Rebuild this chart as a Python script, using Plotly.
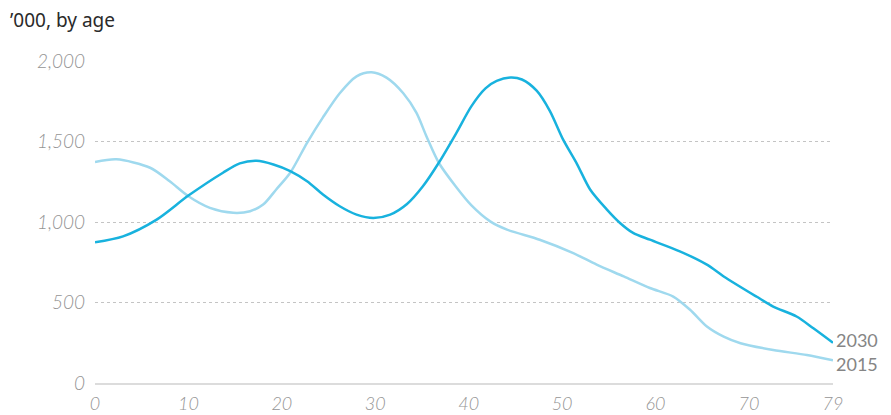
import plotly.graph_objects as go

# 2030 projection, '000 by age
ages_2030 = [0, 3.0, 6.6, 10.0, 13.7, 15.5, 17.3, 19.1, 20.9, 22.7, 24.4, 26.2, 28.0, 29.8, 31.6, 33.4,
             35.1, 36.8, 38.7, 40.3, 41.8, 43.0, 44.5, 45.7, 47.3, 48.7, 50.1, 51.6, 53.0, 54.8, 56.2,
             57.6, 59.4, 62.6, 65.5, 67.3, 70.8, 72.6, 75.1, 76.9, 79]
pop_2030 = [874, 911, 1015, 1164, 1306, 1364, 1380, 1357, 1316, 1253, 1171, 1098, 1046, 1025, 1046, 1112,
            1222, 1368, 1555, 1720, 1830, 1876, 1897, 1885, 1814, 1689, 1513, 1360, 1202, 1077, 994,
            932, 890, 818, 735, 662, 537, 475, 413, 340, 250]

# 2015, '000 by age
ages_2015 = [0, 2.3, 5.9, 8.0, 10.0, 12.3, 14.8, 16.6, 18.0, 19.4, 20.9, 22.7, 24.4, 26.2, 28.0, 29.6,
             31.2, 33.0, 34.4, 35.5, 36.8, 38.6, 40.3, 42.3, 44.1, 47.6, 51.2, 53.7, 56.6, 59.4, 61.9,
             63.7, 65.5, 67.3, 69.1, 72.6, 76.2, 79]
pop_2015 = [1372, 1389, 1337, 1253, 1160, 1088, 1057, 1067, 1108, 1202, 1306, 1492, 1650, 1800, 1905, 1930,
            1897, 1800, 1679, 1530, 1368, 1222, 1103, 1004, 953, 890, 807, 735, 662, 590, 537,
            455, 351, 288, 247, 205, 174, 141]

x_tickvals = [0, 10, 20, 30, 40, 50, 60, 70, 79]
x_ticktext = ["0", "10", "20", "30", "40", "50", "60", "70", "79"]
y_tickvals = [0, 500, 1000, 1500, 2000]
y_ticktext = ["0", "500", "1,000", "1,500", "2,000"]

c2030 = "#18b2de"
c2015 = "#9fd9ee"
grey = "#959595"
font_family = "Lato, 'Open Sans', sans-serif"

fig = go.Figure()
fig.add_trace(go.Scatter(x=ages_2015, y=pop_2015, mode="lines", name="2015",
                         line=dict(color=c2015, width=2.5, shape="spline", smoothing=0.8)))
fig.add_trace(go.Scatter(x=ages_2030, y=pop_2030, mode="lines", name="2030",
                         line=dict(color=c2030, width=2.5, shape="spline", smoothing=0.8)))

fig.add_annotation(x=ages_2030[-1], y=pop_2030[-1], text="2030", showarrow=False,
                   xanchor="left", yanchor="middle", xshift=1, yshift=3,
                   font=dict(family=font_family, size=18, color="#858585"))
fig.add_annotation(x=ages_2015[-1], y=pop_2015[-1], text="2015", showarrow=False,
                   xanchor="left", yanchor="middle", xshift=1, yshift=-4,
                   font=dict(family=font_family, size=18, color="#858585"))

fig.add_annotation(xref="paper", yref="paper", x=0, y=1, xshift=-87, yshift=41,
                   text="\u2019000, by age", showarrow=False, xanchor="left", yanchor="middle",
                   font=dict(family="'Noto Sans', sans-serif", size=19, color="#2a2a2a"))

fig.update_layout(
    template="none",
    width=891, height=415,
    margin=dict(l=87, r=66, t=53, b=40, pad=0),
    paper_bgcolor="white", plot_bgcolor="white",
    showlegend=False,
    font=dict(family=font_family),
)
fig.update_xaxes(range=[0, 79], tickvals=x_tickvals, ticktext=x_ticktext, automargin=False,
                 showgrid=False, zeroline=False, showline=True, linecolor="#dcdcdc", linewidth=2,
                 ticks="", ticklabelstandoff=3,
                 tickfont=dict(family=font_family, size=18, color=grey, style="italic", weight=300))
fig.update_yaxes(range=[0, 2000], tickvals=y_tickvals, ticktext=y_ticktext, automargin=False,
                 showgrid=True, gridcolor="#c4c4c4", griddash="dot", gridwidth=1,
                 zeroline=False, showline=False, ticks="", ticklabelstandoff=9,
                 tickfont=dict(family=font_family, size=19, color=grey, style="italic", weight=300))

fig.write_html("out.html")
